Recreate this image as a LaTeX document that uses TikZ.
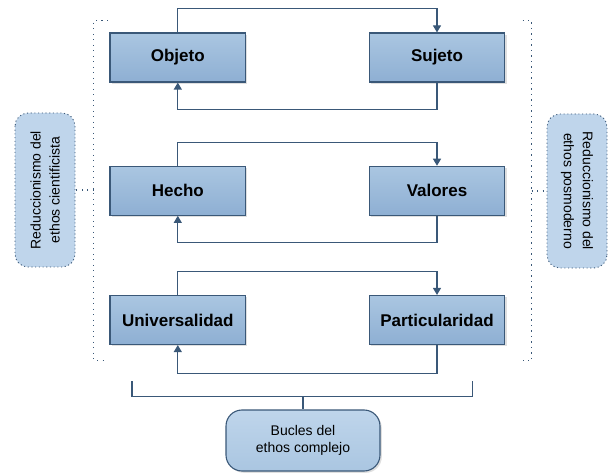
\documentclass[tikz,border=0pt]{standalone}
\usepackage{fontspec}
\setmainfont{Liberation Sans}
\usetikzlibrary{arrows.meta,shadows}

\definecolor{azulborde}{HTML}{3A5878}
\definecolor{azularriba}{HTML}{AAC6E1}
\definecolor{azulabajo}{HTML}{8EAFD3}
\definecolor{azulclaro}{HTML}{BFD5EB}

\tikzset{
	caja/.style={draw=azulborde, line width=1.1pt, top color=azularriba, bottom color=azulabajo,
		minimum width=135.7pt, minimum height=49pt, inner sep=0pt,
		font=\fontsize{17}{20}\selectfont\bfseries,
		drop shadow={shadow xshift=1.8pt, shadow yshift=-1.8pt, opacity=0.25}},
	lateral/.style={draw=azulborde, line width=0.9pt, dash pattern=on 1.1pt off 2.6pt,
		fill=azulclaro, rounded corners=13pt, minimum width=154pt, minimum height=60pt,
		align=center, inner sep=0pt, font=\fontsize{14}{19}\selectfont},
	bucle/.style={draw=azulborde, line width=1.1pt, top color=azulclaro, bottom color=azularriba,
		rounded corners=16pt, minimum width=154pt, minimum height=61pt,
		align=center, inner sep=0pt, font=\fontsize{14}{17}\selectfont,
		drop shadow={shadow xshift=1.8pt, shadow yshift=-1.8pt, opacity=0.25}},
	flecha/.style={draw=azulborde, line width=1.1pt, -{Triangle[width=8pt,length=7pt]}},
	linea/.style={draw=azulborde, line width=1.1pt},
	puntos/.style={draw=azulborde, line width=1.1pt, dash pattern=on 1.1pt off 4.4pt}
}

\begin{document}
\begin{tikzpicture}[x=1pt, y=-1pt]
	\useasboundingbox (0,0) rectangle (608,473);
	% cajas
	\node[caja] (objeto) at (177.8,57.5){Objeto};
	\node[caja] (sujeto) at (437,57.5){Sujeto};
	\node[caja] (hecho) at (177.8,190.8){Hecho};
	\node[caja] (valores) at (437,190.8){Valores};
	\node[caja] (univ) at (177.8,320){Universalidad};
	\node[caja] (part) at (437,320){Particularidad};

	% bucles
	\draw[flecha] (objeto.north) -- ++(0,-24) -| (sujeto.north);
	\draw[flecha] (sujeto.south) -- ++(0,27) -| (objeto.south);
	\draw[flecha] (hecho.north) -- ++(0,-23.5) -| (valores.north);
	\draw[flecha] (valores.south) -- ++(0,27) -| (hecho.south);
	\draw[flecha] (univ.north) -- ++(0,-23.5) -| (part.north);
	\draw[flecha] (part.south) -- ++(0,28) -| (univ.south);

	% reduccionismos
	\node[lateral, rotate=90] (cientif) at (45,190){Reduccionismo del\\ethos cientificista};
	\node[lateral, rotate=-90] (posmod) at (577,191){Reduccionismo del\\ethos posmoderno};
	\coordinate (izqa) at (108,20.7);
	\coordinate (izqb) at (108,360.5);
	\coordinate (izqm) at (93.7,190);
	\coordinate (dera) at (522.5,20.7);
	\coordinate (derb) at (522.5,360.5);
	\coordinate (derm) at (531.7,191);
	\draw[puntos] (izqa) -- (93.7,20.7) -- (93.7,360.5) -- (izqb);
	\draw[puntos] (izqm) -- (cientif.south);
	\draw[puntos] (dera) -- (531.7,20.7) -- (531.7,360.5) -- (derb);
	\draw[puntos] (derm) -- (posmod.south);

	% complejo
	\node[bucle] (complejo) at (303,440.5){Bucles del\\ethos complejo};
	\coordinate (llavea) at (132,381);
	\coordinate (llaveb) at (472.7,381);
	\coordinate (llavem) at (303,396.7);
	\draw[linea] (llavea) -- (132,396.7) -- (472.7,396.7) -- (llaveb);
	\draw[linea] (llavem) -- (complejo.north);
\end{tikzpicture}
\end{document}
